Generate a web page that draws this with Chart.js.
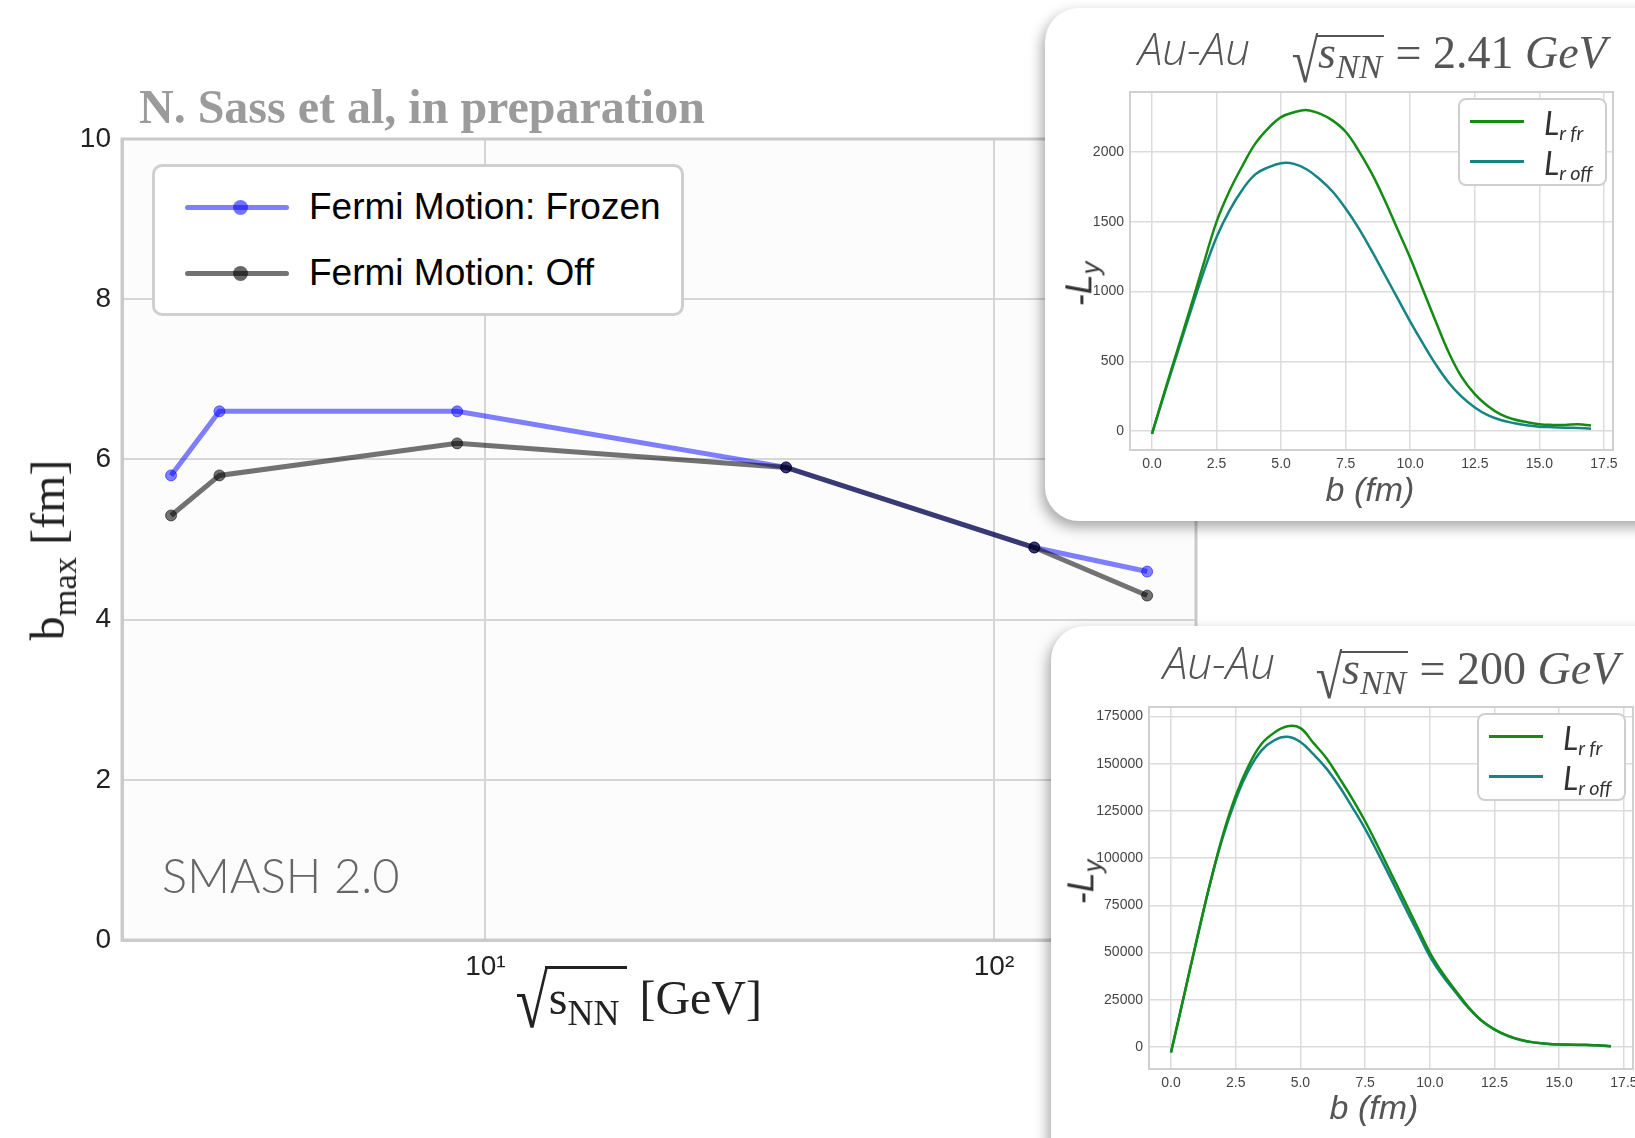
<!DOCTYPE html>
<html>
<head>
<meta charset="utf-8">
<script src="https://cdn.jsdelivr.net/npm/chart.js@4.4.0/dist/chart.umd.min.js"></script>
<style>
  body { margin: 0; width: 1635px; height: 1138px; overflow: hidden; background: #fff; position: relative;
         font-family: "Liberation Sans", Arial, sans-serif; }
  canvas { position: absolute; left: 0; top: 0; }
  .abs { position: absolute; white-space: nowrap; }
  #prep { left: 139px; top: 79px; font: bold 48px "Liberation Serif", serif; color: #9b9b9b; }
  #ytitle { left: 52px; top: 550px; font: 48px "Liberation Serif", serif; color: #222;
            transform: translate(-50%, -50%) rotate(-90deg); }
  #ytitle sub { font-size: 0.72em; vertical-align: -0.35em; }
  #xtitle { left: 511px; top: 958px; font: 48px "Liberation Serif", serif; color: #222; }
  .rad { font-size: 76px; display: inline-block; transform: scaleX(0.78); margin-right: -8px; vertical-align: -13px; }
  .radicand { display: inline-block; line-height: 30px; border-top: 3px solid #222; padding: 14px 8px 0 4px; }
  .radicand sub { font-size: 0.75em; vertical-align: -0.3em; }
  #smash { left: 162px; top: 847px; font: 300 47px Lato, "Open Sans", sans-serif; color: #666; }
  #legend { left: 152px; top: 164px; width: 526px; height: 146px; border: 3px solid #cfcfcf; border-radius: 10px; background: #fff; }
  .row { position: absolute; left: 0; height: 40px; }
  .sample { position: absolute; left: 30px; top: 18px; width: 104px; height: 5px; border-radius: 3px; }
  .dot { position: absolute; left: 78px; top: 13px; width: 15px; height: 15px; border-radius: 50%; }
  .ltxt { position: absolute; left: 154px; top: 0; font-size: 37px; color: #000; line-height: 40px; }
  .inset { position: absolute; background: #fff; border-radius: 34px; box-shadow: -3px 6px 14px rgba(0,0,0,0.35); overflow: hidden; }
  .ititle { position: absolute; top: 12px; white-space: nowrap; color: #555; }
  .au { font: italic 300 44px "Open Sans", Lato, sans-serif; top: 10px; }
  .math { font: 46px "Liberation Serif", serif; }
  .math i { font-style: italic; }
  .math .rad { font-size: 62px; vertical-align: -14px; margin-right: -6px; }
  .math .radicand { line-height: 28px; border-top: 2px solid #555; padding: 2px 2px 0 2px; }
  .math .radicand sub { font-size: 0.75em; }
  .ixt { position: absolute; font: italic 34px "Liberation Sans", Arial, sans-serif; color: #555; transform: translate(-50%, -50%); }
  .iyt { position: absolute; font: italic 36px "Liberation Sans", Arial, sans-serif; color: #333; transform: translate(-50%, -50%) rotate(-90deg); }
  .iyt sub { font-size: 0.7em; }
  .ileg { position: absolute; width: 145px; height: 84px; border: 2px solid #cfcfcf; border-radius: 8px; background: #fff; }
  .iline { position: absolute; left: 10px; width: 54px; height: 3px; }
  .itxt { position: absolute; left: 84px; font: italic 32px Lato, "Liberation Sans", sans-serif; color: #333; line-height: 34px; }
  .itxt sub { font-size: 0.62em; vertical-align: -0.25em; }
</style>
</head>
<body>
<canvas id="mainChart" width="1240" height="1138"></canvas>

<div id="prep" class="abs">N. Sass et al, in preparation</div>
<div id="ytitle" class="abs">b<sub>max</sub> [fm]</div>
<div id="xtitle" class="abs"><span class="rad">√</span><span class="radicand">s<sub>NN</sub></span> [GeV]</div>
<div id="smash" class="abs">SMASH 2.0</div>
<div id="legend" class="abs">
  <div class="row" style="top:20px">
    <div class="sample" style="background:rgba(0,0,255,0.5)"></div>
    <div class="dot" style="background:rgba(0,0,255,0.55)"></div>
    <div class="ltxt">Fermi Motion: Frozen</div>
  </div>
  <div class="row" style="top:86px">
    <div class="sample" style="background:rgba(0,0,0,0.55)"></div>
    <div class="dot" style="background:rgba(0,0,0,0.6)"></div>
    <div class="ltxt">Fermi Motion: Off</div>
  </div>
</div>

<div class="inset" style="left:1045px; top:8px; width:640px; height:513px;">
  <canvas id="inset241" width="600" height="520"></canvas>
  <div class="ititle au" style="left:93px">Au-Au</div>
  <div class="ititle math" style="left:243px; top:18px"><span class="rad">√</span><span class="radicand"><i>s<sub>NN</sub></i></span> = 2.41 <i>GeV</i></div>
  <div class="iyt" style="left:37px; top:276px">-<i>L<sub>y</sub></i></div>
  <div class="ixt" style="left:325px; top:481px">b (fm)</div>
  <div class="ileg" style="left:413px; top:90px">
    <div class="iline" style="top:20px; background:#148c14"></div>
    <div class="itxt" style="top:6px">L<sub>r fr</sub></div>
    <div class="iline" style="top:60px; background:#168484"></div>
    <div class="itxt" style="top:46px">L<sub>r off</sub></div>
  </div>
</div>

<div class="inset" style="left:1051px; top:626px; width:640px; height:560px;">
  <canvas id="inset200" width="600" height="520"></canvas>
  <div class="ititle au" style="left:112px; top:6px">Au-Au</div>
  <div class="ititle math" style="left:261px; top:16px"><span class="rad">√</span><span class="radicand"><i>s<sub>NN</sub></i></span> = 200 <i>GeV</i></div>
  <div class="iyt" style="left:33px; top:256px">-<i>L<sub>y</sub></i></div>
  <div class="ixt" style="left:323px; top:481px">b (fm)</div>
  <div class="ileg" style="left:426px; top:87px">
    <div class="iline" style="top:20px; background:#148c14"></div>
    <div class="itxt" style="top:6px">L<sub>r fr</sub></div>
    <div class="iline" style="top:60px; background:#168484"></div>
    <div class="itxt" style="top:46px">L<sub>r off</sub></div>
  </div>
</div>

<script>
// main panel: b_max vs sqrt(s_NN)
const energies = [2.41, 3.0, 8.8, 39, 120, 200];
const bmaxFrozen = [5.8, 6.6, 6.6, 5.9, 4.9, 4.6];
const bmaxOff = [5.3, 5.8, 6.2, 5.9, 4.9, 4.3];
const energyTicks = [10, 100];
const energyTickLabels = ['10¹', '10²'];
const bmaxTicks = [0, 2, 4, 6, 8, 10];

// insets: -L_y vs impact parameter b
const bValues = [0, 0.5, 1, 1.5, 2, 2.5, 3, 3.5, 4, 4.5, 5, 5.5, 6, 6.5, 7, 7.5, 8, 8.5,
                 9, 9.5, 10, 10.5, 11, 11.5, 12, 12.5, 13, 13.5, 14, 14.5, 15, 15.5, 16, 16.5, 17];
const bTicks = [0, 2.5, 5, 7.5, 10, 12.5, 15, 17.5];
const ly241Frozen = [-20, 290, 590, 890, 1200, 1500, 1720, 1900, 2060, 2170, 2250, 2285, 2300, 2275,
                     2225, 2145, 2010, 1850, 1660, 1450, 1240, 1010, 780, 560, 385, 265, 180, 120, 85,
                     65, 50, 45, 45, 50, 40];
const ly241Off = [-20, 280, 570, 860, 1140, 1390, 1580, 1730, 1840, 1890, 1920, 1915, 1875, 1805,
                  1715, 1595, 1455, 1295, 1125, 955, 785, 625, 475, 345, 245, 170, 115, 80, 58,
                  42, 32, 28, 25, 22, 18];
const ly241Ticks = [0, 500, 1000, 1500, 2000];
const ly200Frozen = [-3000, 27000, 57000, 86000, 112000, 133000, 149000, 160500, 166500, 169800,
                     168800, 161000, 153000, 142500, 131500, 119500, 106000, 92000, 78000, 64000,
                     50000, 39000, 29800, 21000, 14000, 9300, 6000, 3800, 2400, 1700, 1300, 1200,
                     1100, 900, 400];
const ly200Off = [-3000, 27000, 57000, 86000, 111000, 131000, 146500, 157000, 162500, 164200,
                  161500, 155000, 147500, 138000, 127000, 115500, 102500, 89000, 75000, 61500,
                  48000, 37500, 28800, 20500, 13800, 9100, 5900, 3700, 2400, 1700, 1300, 1100,
                  1000, 800, 300];
const ly200Ticks = [0, 25000, 50000, 75000, 100000, 125000, 150000, 175000];

// light plot background and a full frame round the axes box
const plotBox = {
    id: 'plotBox',
    beforeDraw(chart, args, opts) {
        const a = chart.chartArea, c = chart.ctx;
        c.save();
        c.fillStyle = opts.fill;
        c.fillRect(a.left, a.top, a.right - a.left, a.bottom - a.top);
        c.restore();
    },
    afterDatasetsDraw(chart, args, opts) {
        const a = chart.chartArea, c = chart.ctx;
        c.save();
        c.strokeStyle = opts.stroke;
        c.lineWidth = opts.width;
        c.strokeRect(a.left, a.top, a.right - a.left, a.bottom - a.top);
        c.restore();
    }
};

function pts(xs, ys) {
    return xs.map((x, i) => ({ x: x, y: ys[i] }));
}

new Chart(document.getElementById('mainChart'), {
    type: 'line',
    data: {
        datasets: [{
            label: 'Fermi Motion: Frozen',
            data: pts(energies, bmaxFrozen),
            borderColor: 'rgba(0,0,255,0.5)',
            backgroundColor: 'rgba(0,0,255,0.5)',
            pointBorderColor: 'rgba(0,0,255,0.5)',
            borderWidth: 5,
            pointRadius: 5.5,
            pointBorderWidth: 1,
            order: 1
        }, {
            label: 'Fermi Motion: Off',
            data: pts(energies, bmaxOff),
            borderColor: 'rgba(0,0,0,0.55)',
            backgroundColor: 'rgba(0,0,0,0.55)',
            pointBorderColor: 'rgba(0,0,0,0.55)',
            borderWidth: 5,
            pointRadius: 5.5,
            pointBorderWidth: 1,
            order: 0
        }]
    },
    options: {
        responsive: false,
        animation: false,
        devicePixelRatio: 1,
        layout: { padding: { top: 139, right: 44, left: 0, bottom: 0 } },
        plugins: {
            legend: { display: false },
            tooltip: { enabled: false },
            plotBox: { fill: '#fcfcfc', stroke: '#cacaca', width: 3 }
        },
        scales: {
            x: {
                type: 'logarithmic',
                min: 1.93,
                max: 249.5,
                afterBuildTicks: s => { s.ticks = energyTicks.map(v => ({ value: v })); },
                afterFit: s => { s.height = 198; },
                ticks: {
                    autoSkip: false,
                    maxRotation: 0,
                    padding: 10,
                    color: '#222',
                    font: { family: '"Liberation Sans", Arial, sans-serif', size: 28 },
                    callback: v => energyTickLabels[energyTicks.indexOf(v)]
                },
                grid: { color: '#d6d6d6', lineWidth: 2, drawTicks: false },
                border: { color: '#cacaca', width: 3 }
            },
            y: {
                min: 0,
                max: 10,
                afterBuildTicks: s => { s.ticks = bmaxTicks.map(v => ({ value: v })); },
                afterFit: s => { s.width = 122; },
                ticks: {
                    padding: 11,
                    color: '#222',
                    font: { family: '"Liberation Sans", Arial, sans-serif', size: 28 }
                },
                grid: { color: '#d6d6d6', lineWidth: 2, drawTicks: false },
                border: { color: '#cacaca', width: 3 }
            }
        }
    },
    plugins: [plotBox]
});

function insetChart(id, frozen, off, yMin, yMax, yTicks, box) {
    new Chart(document.getElementById(id), {
        type: 'line',
        data: {
            datasets: [{
                data: pts(bValues, frozen),
                borderColor: '#148c14',
                borderWidth: 2.5,
                pointRadius: 0,
                tension: 0.4
            }, {
                data: pts(bValues, off),
                borderColor: '#168484',
                borderWidth: 2.5,
                pointRadius: 0,
                tension: 0.4
            }]
        },
        options: {
            responsive: false,
            animation: false,
            devicePixelRatio: 1,
            layout: { padding: { top: box.top, right: box.right, left: 0, bottom: 0 } },
            plugins: {
                legend: { display: false },
                tooltip: { enabled: false },
                plotBox: { fill: '#ffffff', stroke: '#d0d0d0', width: 2 }
            },
            scales: {
                x: {
                    type: 'linear',
                    min: -0.85,
                    max: 17.85,
                    afterBuildTicks: s => { s.ticks = bTicks.map(v => ({ value: v })); },
                    afterFit: s => { s.height = box.bottom; },
                    ticks: {
                        autoSkip: false,
                        maxRotation: 0,
                        padding: 6,
                        color: '#444',
                        font: { family: '"Liberation Sans", Arial, sans-serif', size: 14 },
                        callback: v => v.toFixed(1)
                    },
                    grid: { color: '#dcdcdc', lineWidth: 1.5, drawTicks: false },
                    border: { color: '#d0d0d0', width: 2 }
                },
                y: {
                    min: yMin,
                    max: yMax,
                    afterBuildTicks: s => { s.ticks = yTicks.map(v => ({ value: v })); },
                    afterFit: s => { s.width = box.left; },
                    ticks: {
                        padding: 6,
                        color: '#444',
                        font: { family: '"Liberation Sans", Arial, sans-serif', size: 14 },
                        callback: v => String(v)
                    },
                    grid: { color: '#dcdcdc', lineWidth: 1.5, drawTicks: false },
                    border: { color: '#d0d0d0', width: 2 }
                }
            }
        },
        plugins: [plotBox]
    });
}

insetChart('inset241', ly241Frozen, ly241Off, -135, 2430, ly241Ticks, { left: 85, top: 84, right: 32, bottom: 78 });
insetChart('inset200', ly200Frozen, ly200Off, -11700, 180000, ly200Ticks, { left: 98, top: 81, right: 18, bottom: 77 });
</script>
</body>
</html>
